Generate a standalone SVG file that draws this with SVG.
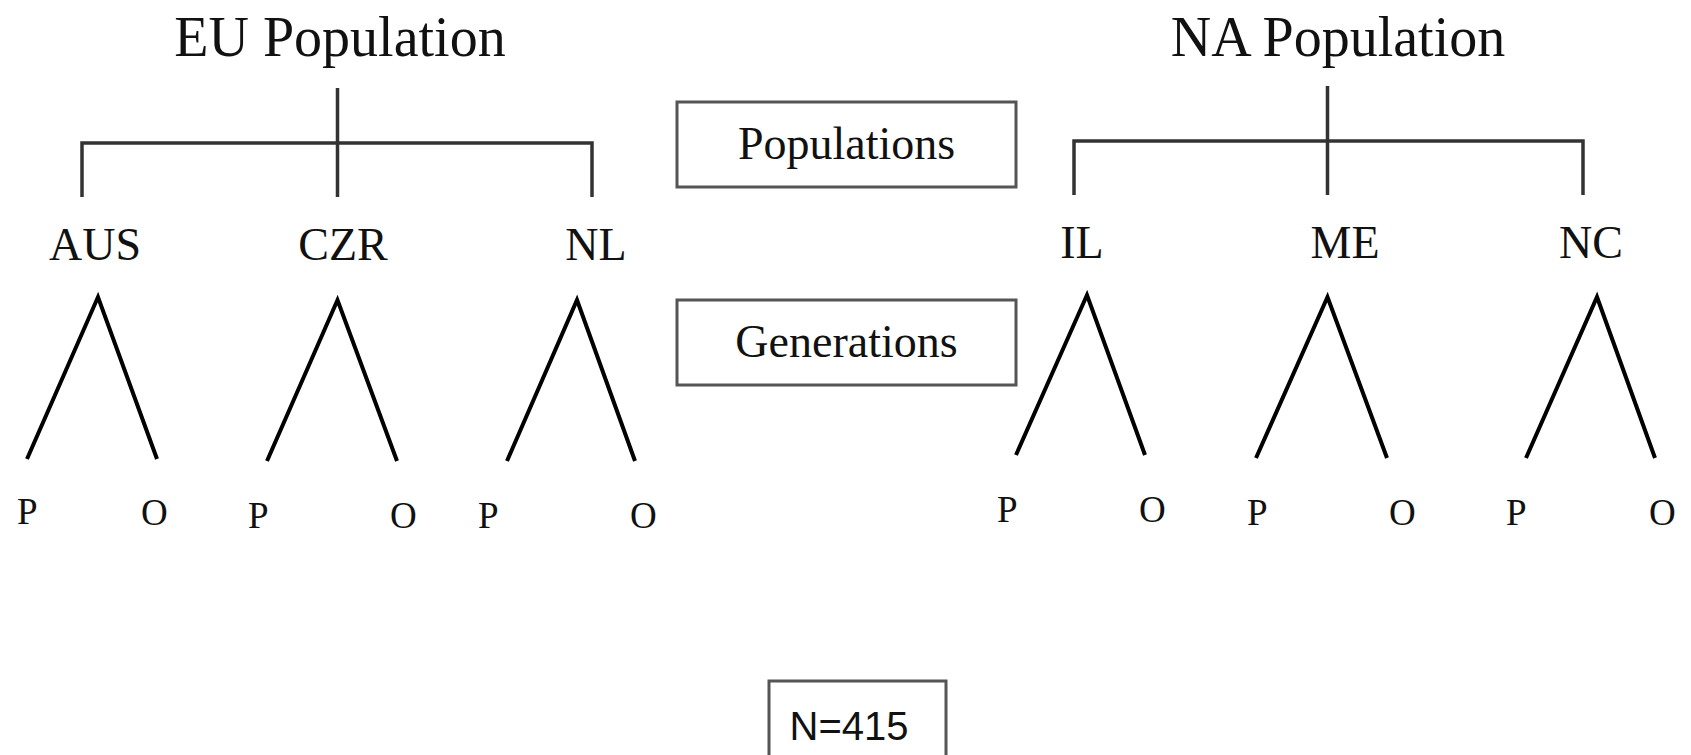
<svg xmlns="http://www.w3.org/2000/svg" width="1691" height="755" viewBox="0 0 1691 755">
<style>
.title{font-family:"Liberation Serif","Times New Roman",serif;font-size:56px;fill:#111;text-anchor:middle}
.site{font-family:"Liberation Serif","Times New Roman",serif;font-size:46px;fill:#111;text-anchor:middle}
.box{fill:#fff;stroke:#555;stroke-width:3}
.boxtxt{font-family:"Liberation Serif","Times New Roman",serif;font-size:46px;fill:#111;text-anchor:middle}
.po{font-family:"Liberation Serif","Times New Roman",serif;font-size:37px;fill:#111}
.tree{fill:none;stroke:#333;stroke-width:3.5}
.lam{fill:none;stroke:#000;stroke-width:4;stroke-linejoin:miter;stroke-miterlimit:10}
.ntxt{font-family:"Liberation Sans",Arial,sans-serif;font-size:40px;fill:#111;text-anchor:middle}
</style>
<g id="connectors">
<path class="tree" d="M337.5 88 V197 M82 197 V143 H592 V197"/>
<path class="tree" d="M1327.5 86 V195 M1074 195 V141 H1583 V195"/>
<path class="lam" d="M27 459 L98 297 L157 459"/>
<path class="lam" d="M267 461 L337.5 300 L397 461"/>
<path class="lam" d="M507 461 L577 300 L635 461"/>
<path class="lam" d="M1016 455 L1087 295 L1145 455"/>
<path class="lam" d="M1256 458 L1327.5 297 L1387 458"/>
<path class="lam" d="M1526 458 L1597 297 L1655 458"/>
</g>
<g id="eu-pop"><text class="title" x="340" y="56">EU Population</text></g>
<g id="na-pop"><text class="title" x="1338" y="56">NA Population</text></g>
<g id="aus"><text class="site" x="95" y="260">AUS</text></g>
<g id="czr"><text class="site" x="343" y="260">CZR</text></g>
<g id="nl"><text class="site" x="596" y="260">NL</text></g>
<g id="il"><text class="site" x="1082" y="258">IL</text></g>
<g id="me"><text class="site" x="1345" y="258">ME</text></g>
<g id="nc"><text class="site" x="1591" y="258">NC</text></g>
<g id="populations-box"><rect class="box" x="677" y="102" width="339" height="85"/><text class="boxtxt" x="846.5" y="159">Populations</text></g>
<g id="generations-box"><rect class="box" x="677" y="300" width="339" height="85"/><text class="boxtxt" x="846.5" y="357">Generations</text></g>
<g id="po-aus"><text class="po" x="17" y="524">P</text><text class="po" x="141" y="525">O</text></g>
<g id="po-czr"><text class="po" x="248" y="528">P</text><text class="po" x="390" y="528">O</text></g>
<g id="po-nl"><text class="po" x="478" y="528">P</text><text class="po" x="630" y="528">O</text></g>
<g id="po-il"><text class="po" x="997" y="522">P</text><text class="po" x="1139" y="522">O</text></g>
<g id="po-me"><text class="po" x="1247" y="525">P</text><text class="po" x="1389" y="525">O</text></g>
<g id="po-nc"><text class="po" x="1506" y="525">P</text><text class="po" x="1649" y="525">O</text></g>
<g id="n-box"><rect class="box" x="769" y="681" width="177" height="100" stroke="#333"/><text class="ntxt" x="849" y="740">N=415</text></g>
</svg>
